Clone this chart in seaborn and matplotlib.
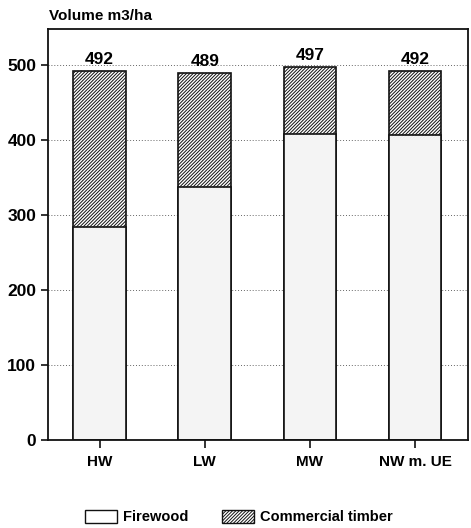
import matplotlib
matplotlib.use("Agg")
import matplotlib.pyplot as plt
import matplotlib.patches as mpatches
import seaborn as sns
import pandas as pd


# ======================
# Data
# ======================

regions = ["HW", "LW", "MW", "NW m. UE"]
firewood = [284, 337, 408, 406]
total_volume = [492, 489, 497, 492]
y_ticks = [0, 100, 200, 300, 400, 500]

df = pd.DataFrame({
    "region": regions,
    "firewood": firewood,
    "total": total_volume
})


# ======================
# Style
# ======================

sns.set_style("white")
plt.rcParams["font.family"] = ["Liberation Sans", "DejaVu Sans"]
plt.rcParams["font.weight"] = "bold"
plt.rcParams["text.color"] = "black"
plt.rcParams["hatch.linewidth"] = 0.7
plt.rcParams["hatch.color"] = "#1a1a1a"

HATCH = "/" * 10
EDGE = "#111111"

fig = plt.figure(figsize=(4.71, 5.28), dpi=100)
ax = fig.add_axes([0.102, 0.167, 0.891, 0.778])

# dotted grid behind the bars
ax.set_axisbelow(True)
ax.yaxis.grid(True, linestyle=(0, (1, 2)), color="#666666", linewidth=0.7)


# ======================
# Bars
# ======================

# commercial timber = full height, hatched; firewood drawn over it
sns.barplot(
    data=df, x="region", y="total", ax=ax,
    color="white", width=0.5, edgecolor=EDGE, linewidth=1.2,
    saturation=1
)
for p in ax.patches:
    p.set_hatch(HATCH)
    p.set_facecolor("white")

sns.barplot(
    data=df, x="region", y="firewood", ax=ax,
    color="#f4f4f4", width=0.5, edgecolor=EDGE, linewidth=1.2,
    saturation=1
)

for i, v in enumerate(total_volume):
    ax.annotate(
        str(v), (i, v), xytext=(0, 3), textcoords="offset points",
        ha="center", va="bottom", fontsize=12.5, fontweight="bold",
        color="black"
    )


# ======================
# Axes
# ======================

ax.set_xlim(-0.49, 3.5)
ax.set_ylim(0, 548)
ax.set_yticks(y_ticks)
ax.set_xlabel("")
ax.set_ylabel("")
ax.tick_params(axis="y", direction="out", length=5, width=1.2,
               labelsize=12.5, left=True, color=EDGE, labelcolor="black")
ax.tick_params(axis="x", direction="inout", length=12, width=1.2,
               labelsize=11, bottom=True, pad=5, color=EDGE,
               labelcolor="black")
for s in ax.spines.values():
    s.set_color(EDGE)
    s.set_linewidth(1.3)

fig.text(0.104, 0.983, "Volume m3/ha", ha="left", va="top",
         fontsize=11, fontweight="bold")


# ======================
# Legend
# ======================

handles = [
    mpatches.Patch(facecolor="white", edgecolor=EDGE, label="Firewood"),
    mpatches.Patch(facecolor="white", edgecolor=EDGE, hatch=HATCH,
                   label="Commercial timber"),
]
fig.legend(
    handles=handles, loc="lower center", bbox_to_anchor=(0.507, -0.018),
    ncol=2, frameon=False, fontsize=10.5, handlelength=2.2,
    handleheight=1.0, columnspacing=2.3, handletextpad=0.4
)

plt.savefig("out.png", dpi=100)
plt.close()
